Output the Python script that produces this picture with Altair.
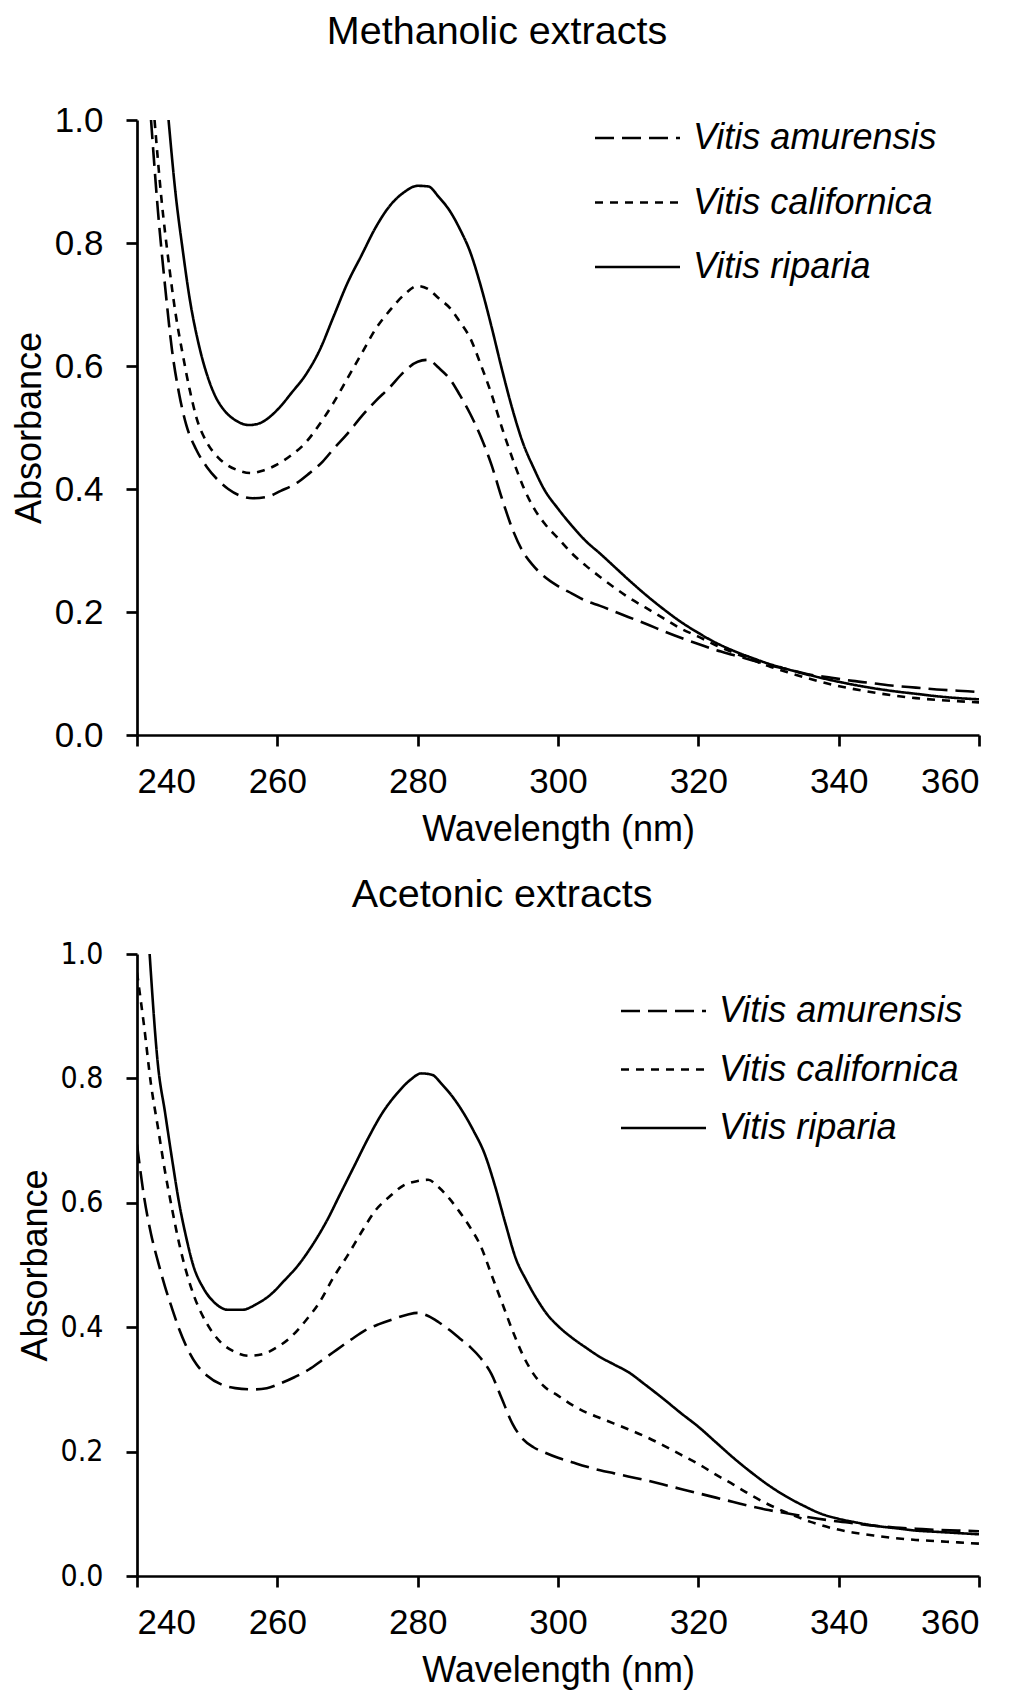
import altair as alt
import pandas as pd

SPECIES = ["Vitis amurensis", "Vitis californica", "Vitis riparia"]

# ---------------- Methanolic extracts ----------------
M_AMU_WL = [242.0, 243.0, 244.0, 245.0, 246.0, 247.0, 248.4, 250.0, 251.5, 253.0, 254.5, 256.5, 258.5, 260.5,
            262.8, 264.5, 266.5, 268.0, 270.0, 272.0, 274.0, 276.0, 278.0, 280.0, 281.5, 283.0, 284.7, 286.0,
            287.5, 289.0, 290.5, 292.0, 293.5, 295.0, 296.5, 298.0, 300.0, 302.0, 304.0, 306.0, 308.0, 310.0,
            312.5, 315.0, 317.5, 320.0, 322.5, 325.0, 327.5, 330.0, 333.0, 336.0, 339.0, 342.0, 345.0, 348.0,
            351.0, 354.0, 357.0, 360.0]
M_AMU_A = [1.0, 0.85, 0.73, 0.625, 0.555, 0.505, 0.465, 0.435, 0.415, 0.40, 0.39, 0.385, 0.387, 0.397,
           0.41, 0.425, 0.445, 0.465, 0.49, 0.518, 0.543, 0.565, 0.59, 0.607, 0.61, 0.597, 0.577, 0.553,
           0.522, 0.485, 0.44, 0.385, 0.335, 0.298, 0.275, 0.258, 0.242, 0.23, 0.218, 0.21, 0.201, 0.192,
           0.181, 0.169, 0.158, 0.148, 0.138, 0.13, 0.122, 0.114, 0.106, 0.098, 0.093, 0.088, 0.084, 0.08,
           0.077, 0.074, 0.072, 0.07]

M_CAL_WL = [242.5, 243.5, 244.5, 245.5, 246.5, 247.5, 248.5, 250.0, 251.5, 253.0, 254.5, 256.3, 258.0, 260.0,
            262.0, 264.0, 266.0, 268.0, 270.0, 272.0, 274.0, 276.0, 278.0, 280.0, 281.5, 283.0, 284.7, 286.0,
            287.5, 289.0, 290.5, 292.0, 293.5, 295.0, 296.5, 298.0, 300.0, 302.0, 304.0, 306.0, 308.0, 310.0,
            312.5, 315.0, 317.5, 320.0, 322.5, 325.0, 327.5, 330.0, 333.0, 336.0, 339.0, 342.0, 345.0, 348.0,
            351.0, 354.0, 357.0, 360.0]
M_CAL_A = [1.0, 0.87, 0.77, 0.685, 0.62, 0.562, 0.515, 0.475, 0.452, 0.438, 0.43, 0.426, 0.43, 0.44,
           0.455, 0.475, 0.505, 0.54, 0.58, 0.62, 0.66, 0.69, 0.715, 0.73, 0.725, 0.71, 0.693, 0.672,
           0.645, 0.602, 0.555, 0.5, 0.45, 0.405, 0.37, 0.345, 0.32, 0.295, 0.275, 0.257, 0.24, 0.224,
           0.207, 0.19, 0.173, 0.16, 0.146, 0.134, 0.123, 0.112, 0.101, 0.091, 0.082, 0.075, 0.069, 0.064,
           0.06, 0.057, 0.055, 0.053]

M_RIP_WL = [244.5, 245.5, 246.5, 247.5, 248.8, 250.0, 251.2, 252.5, 254.0, 256.0, 257.5, 259.0, 260.5, 262.0,
            264.0, 266.0, 268.0, 270.0, 272.0, 274.0, 276.0, 278.0, 280.0, 281.5, 283.0, 284.7, 286.0, 287.5,
            289.0, 290.5, 292.0, 293.5, 295.0, 296.5, 298.0, 300.0, 302.0, 304.0, 306.0, 308.0, 310.0, 312.5,
            315.0, 317.5, 320.0, 322.5, 325.0, 327.5, 330.0, 333.0, 336.0, 339.0, 342.0, 345.0, 348.0, 351.0,
            354.0, 357.0, 360.0]
M_RIP_A = [1.0, 0.88, 0.79, 0.71, 0.635, 0.585, 0.55, 0.527, 0.512, 0.504, 0.507, 0.518, 0.535, 0.556,
           0.585, 0.625, 0.68, 0.735, 0.78, 0.825, 0.86, 0.882, 0.893, 0.892, 0.875, 0.85, 0.823, 0.785,
           0.73, 0.665, 0.595, 0.53, 0.475, 0.435, 0.4, 0.368, 0.34, 0.315, 0.295, 0.274, 0.253, 0.228,
           0.205, 0.184, 0.166, 0.15, 0.137, 0.126, 0.116, 0.106, 0.097, 0.089, 0.082, 0.076, 0.071, 0.067,
           0.063, 0.06, 0.058]

# ---------------- Acetonic extracts ----------------
A_AMU_WL = [240.0, 241.0, 242.0, 243.0, 244.0, 245.0, 246.0, 247.0, 248.5, 250.0, 252.0, 254.0, 256.5, 258.5,
            260.5, 262.5, 264.5, 266.5, 268.5, 270.5, 272.5, 274.5, 276.5, 278.5, 280.0, 281.5, 283.0, 284.6,
            286.0, 287.5, 289.0, 290.5, 292.0, 293.5, 295.0, 296.5, 298.0, 300.0, 302.0, 304.0, 306.0, 308.0,
            310.0, 312.5, 315.0, 317.5, 320.0, 322.5, 325.0, 327.5, 330.0, 333.0, 336.0, 339.0, 342.0, 345.0,
            348.0, 351.0, 354.0, 357.0, 360.0]
A_AMU_A = [0.694, 0.61, 0.55, 0.505, 0.465, 0.43, 0.397, 0.37, 0.34, 0.322, 0.308, 0.302, 0.30, 0.302,
           0.31, 0.32, 0.332, 0.348, 0.364, 0.38, 0.395, 0.405, 0.413, 0.42, 0.423, 0.418, 0.408, 0.395,
           0.382, 0.368, 0.35, 0.325, 0.285, 0.245, 0.22, 0.207, 0.199, 0.19, 0.183, 0.176, 0.17, 0.165,
           0.16, 0.154, 0.147, 0.14, 0.133, 0.126, 0.119, 0.112, 0.106, 0.10, 0.094, 0.089, 0.085, 0.081,
           0.078, 0.076, 0.074, 0.073, 0.072]

A_CAL_WL = [240.0, 241.0, 242.0, 243.0, 244.0, 245.0, 246.0, 247.0, 248.2, 250.0, 252.0, 254.0, 256.0, 258.0,
            260.0, 262.0, 264.0, 266.0, 268.0, 270.0, 272.0, 274.0, 276.0, 278.0, 280.0, 281.5, 283.0, 284.5,
            286.0, 287.5, 289.0, 290.5, 292.0, 293.5, 295.0, 296.5, 298.0, 300.0, 302.0, 304.0, 306.0, 308.0,
            310.0, 312.5, 315.0, 317.5, 320.0, 322.5, 325.0, 327.5, 330.0, 333.0, 336.0, 339.0, 342.0, 345.0,
            348.0, 351.0, 354.0, 357.0, 360.0]
A_CAL_A = [0.97, 0.885, 0.79, 0.72, 0.65, 0.59, 0.535, 0.49, 0.448, 0.405, 0.375, 0.36, 0.354, 0.357,
           0.368, 0.385, 0.41, 0.44, 0.48, 0.515, 0.553, 0.588, 0.61, 0.628, 0.635, 0.637, 0.625, 0.607,
           0.585, 0.56, 0.53, 0.485, 0.44, 0.395, 0.355, 0.325, 0.305, 0.29, 0.275, 0.263, 0.254, 0.245,
           0.236, 0.224, 0.21, 0.195, 0.18, 0.163, 0.147, 0.13, 0.115, 0.10, 0.087, 0.077, 0.07, 0.065,
           0.061, 0.058, 0.056, 0.054, 0.052]

A_RIP_WL = [241.8, 243.0, 244.0, 245.0, 246.0, 247.0, 248.0, 249.5, 251.0, 253.0, 255.0, 257.0, 259.0, 261.0,
            263.0, 265.0, 267.0, 269.0, 271.0, 273.0, 275.0, 277.0, 279.0, 280.5, 282.0, 283.5, 285.0, 286.5,
            288.0, 289.5, 291.0, 292.5, 294.0, 295.5, 297.0, 298.5, 300.0, 302.0, 304.0, 306.0, 308.0, 310.0,
            312.5, 315.0, 317.5, 320.0, 322.5, 325.0, 327.5, 330.0, 332.5, 335.0, 337.5, 340.0, 342.5, 345.0,
            348.0, 351.0, 354.0, 357.0, 360.0]
A_RIP_A = [1.0, 0.82, 0.745, 0.67, 0.60, 0.545, 0.50, 0.462, 0.44, 0.428, 0.428, 0.437, 0.452, 0.475,
           0.50, 0.532, 0.57, 0.615, 0.66, 0.705, 0.745, 0.775, 0.798, 0.808, 0.806, 0.79, 0.77, 0.745,
           0.715, 0.68, 0.628, 0.567, 0.51, 0.475, 0.445, 0.42, 0.402, 0.383, 0.367, 0.352, 0.34, 0.328,
           0.307, 0.285, 0.262, 0.24, 0.215, 0.19, 0.167, 0.146, 0.128, 0.113, 0.10, 0.092, 0.086, 0.081,
           0.077, 0.073, 0.071, 0.069, 0.067]

X_TICKS = [240, 260, 280, 300, 320, 340, 360]
Y_TICKS = [0.0, 0.2, 0.4, 0.6, 0.8, 1.0]
DASHES = [[19, 8], [8, 7], [1, 0]]


def frame(series):
    rows = []
    for name, wl, ab in series:
        for w, a in zip(wl, ab):
            rows.append({"species": name, "wl": w, "abs": a})
    return pd.DataFrame(rows)


df_m = frame([(SPECIES[0], M_AMU_WL, M_AMU_A), (SPECIES[1], M_CAL_WL, M_CAL_A), (SPECIES[2], M_RIP_WL, M_RIP_A)])
df_a = frame([(SPECIES[0], A_AMU_WL, A_AMU_A), (SPECIES[1], A_CAL_WL, A_CAL_A), (SPECIES[2], A_RIP_WL, A_RIP_A)])
df_leg = pd.DataFrame({"species": SPECIES})

FONT = "Liberation Sans, Arial, sans-serif"
NARROW = "Liberation Sans Narrow, DejaVu Sans Condensed, sans-serif"


def panel(df, title, title_offset, title_dx, height, leg_x, leg_rows, ylabel_font, ylabel_size):
    dash_scale = alt.Scale(domain=SPECIES, range=DASHES)
    lines = alt.Chart(df).mark_line(color="black", strokeWidth=2.6, clip=True, interpolate="monotone").encode(
        x=alt.X("wl:Q", scale=alt.Scale(domain=[240, 360], nice=False),
                axis=alt.Axis(values=X_TICKS, title="Wavelength (nm)", format="d",
                              labelFont=FONT, labelFontSize=35, labelPadding=18,
                              titleFont=FONT, titleFontSize=36, titleFontWeight="normal",
                              titlePadding=13)),
        y=alt.Y("abs:Q", scale=alt.Scale(domain=[0, 1], nice=False),
                axis=alt.Axis(values=Y_TICKS, title="Absorbance", format=".1f",
                              labelFont=ylabel_font, labelFontSize=ylabel_size, labelPadding=23,
                              titleFont=FONT, titleFontSize=36, titleFontWeight="normal",
                              titlePadding=6)),
        strokeDash=alt.StrokeDash("species:N", scale=dash_scale, legend=None),
        order="wl:Q",
    )
    leg_y = alt.Y("species:N", scale=alt.Scale(type="point", domain=SPECIES, range=leg_rows, padding=0),
                  axis=None)
    leg_lines = alt.Chart(df_leg).mark_rule(color="black", strokeWidth=2.7).encode(
        x=alt.value(leg_x), x2=alt.value(leg_x + 85), y=leg_y,
        strokeDash=alt.StrokeDash("species:N", scale=dash_scale, legend=None),
    )
    leg_text = alt.Chart(df_leg).mark_text(
        align="left", baseline="middle", font=FONT, fontStyle="italic", fontSize=36, color="black"
    ).encode(x=alt.value(leg_x + 98), y=leg_y, text="species:N")
    return alt.layer(lines, leg_lines, leg_text).resolve_scale(y="independent").properties(
        width=842, height=height,
        title=alt.TitleParams(title, font=FONT, fontSize=39.5, fontWeight="normal", color="black",
                              anchor="middle", baseline="alphabetic", offset=title_offset, dx=title_dx),
    )


top = panel(df_m, "Methanolic extracts", 20, -61, 615, 458, [18, 147], FONT, 35)
bottom = panel(df_a, "Acetonic extracts", -7, -56, 622, 484, [57, 174], NARROW, 30)

chart = alt.vconcat(top, bottom, spacing=27).properties(
    padding={"left": 3, "top": 3, "right": 5, "bottom": 5}
).configure_view(stroke=None).configure_axis(
    grid=False, domainColor="black", domainWidth=2.7, tickColor="black", tickWidth=2.7, tickSize=11,
    labelColor="black", titleColor="black",
)

chart.save("out.html", embed_options={"renderer": "svg", "actions": False})
